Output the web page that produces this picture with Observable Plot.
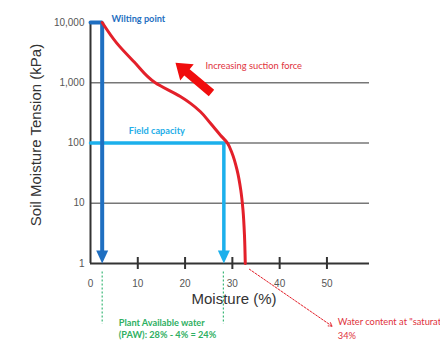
<!DOCTYPE html>
<html>
<head>
<meta charset="utf-8">
<script src="https://cdn.jsdelivr.net/npm/d3@7"></script>
<script src="https://cdn.jsdelivr.net/npm/@observablehq/plot@0.6"></script>
<style>
  html, body { margin: 0; padding: 0; background: #fff; }
</style>
</head>
<body>
<div id="chart"></div>
<script>
// Retention curve (moisture %, tension kPa)
const curveMoisture = [2.47, 5.6, 9.2, 13.7, 19.0, 21.15, 23.26, 25.37, 27.48, 28.9, 29.96, 31.0, 31.78, 32.25, 32.56, 32.73];
const curveTension  = [10000, 4500, 2230, 1000, 590, 455, 330, 212, 135, 101, 67, 35.5, 16.5, 7.7, 2.95, 1];

const yTicks = [1, 10, 100, 1000, 10000];
const xTickLabels = [0, 10, 20, 30, 40, 50];
const xTickMarks = [10, 20, 30, 40, 50];
const gridValues = [10, 100, 1000];

const wiltingX = 2.47;      // wilting point moisture
const wiltingY = 10000;
const fieldX = 28.2;        // field capacity moisture
const fieldY = 100;

// paths
const wiltingPath = [[0, wiltingY], [wiltingX, wiltingY], [wiltingX, 1.6]];
const fieldPath = [[0, fieldY], [fieldX, fieldY], [fieldX, 1.6]];

// annotations
const annotX = [4.44, 8.1, 24.3, 5.98, 5.98, 52.3, 52.3];
const annotY = [11430, 160, 1893, 0.103, 0.0644, 0.105, 0.0622];
const annotText = ["Wilting point", "Field capacity", "Increasing suction force",
  "Plant Available water", "(PAW): 28% - 4% = 24%",
  "Water content at \"saturation\"", "34%"];
const annotColor = ["#1f6fc1", "#25aee8", "#e0323c", "#2eaf62", "#2eaf62", "#e0323c", "#e0323c"];
const annotBold = [true, true, false, true, true, false, false];

// big suction arrow (tip position)
const suctionTip = [{x: 17.97, y: 2150}];
// dotted saturation pointer
const satPointer = [{x1: 33.6, y1: 0.804, x2: 51.1, y2: 0.091}];
// dashed PAW guides
const pawGuides = [wiltingX, 28.1];

const curve = curveMoisture.map((m, i) => ({x: m, y: curveTension[i]})).reverse();
const annots = annotText.map((t, i) => ({x: annotX[i], y: annotY[i], text: t, color: annotColor[i], bold: annotBold[i]}));

const blockArrow = {
  draw(ctx, l) {
    const hw = 10.5, hl = 15, sw = 4.2;
    ctx.moveTo(-sw, 0);
    ctx.lineTo(-sw, -(l - hl));
    ctx.lineTo(-hw, -(l - hl));
    ctx.lineTo(0, -l);
    ctx.lineTo(hw, -(l - hl));
    ctx.lineTo(sw, -(l - hl));
    ctx.lineTo(sw, 0);
    ctx.closePath();
  }
};

const annotFont = "Lato, 'Open Sans', sans-serif";

const chart = Plot.plot({
  width: 440,
  height: 352,
  marginLeft: 90,
  marginRight: 71,
  marginTop: 22,
  marginBottom: 89,
  style: {fontFamily: "'Liberation Sans', Arial, sans-serif", background: "#fff"},
  x: {domain: [0, 59], axis: null},
  y: {type: "log", domain: [1, 10000], axis: null},
  marks: [
    Plot.ruleY(gridValues, {stroke: "#777", strokeWidth: 1.3}),
    Plot.axisY({ticks: yTicks, tickFormat: d3.format(","), tickSize: 0, tickPadding: 6, fontSize: 10, color: "#555", label: null}),
    Plot.axisX({ticks: xTickLabels, tickFormat: d => String(d), tickSize: 0, tickPadding: 16, fontSize: 10, color: "#555", label: null}),
    Plot.axisX({ticks: xTickMarks, tickFormat: () => "", tickSize: 12, dy: -6, strokeWidth: 2, stroke: "#333", label: null}),
    Plot.ruleX([0], {y1: 1, y2: 10000, stroke: "#333", strokeWidth: 2}),
    Plot.ruleY([1], {x1: 0, x2: 59, stroke: "#333", strokeWidth: 2.2}),
    Plot.text(["Soil Moisture Tension (kPa)"], {frameAnchor: "left", textAnchor: "middle", lineAnchor: "middle", rotate: -90, dx: -54, dy: -8, fontSize: 15, fill: "#333"}),
    Plot.text(["Moisture (%)"], {frameAnchor: "bottom", textAnchor: "middle", lineAnchor: "middle", dx: 4, dy: 36, fontSize: 15, fill: "#333"}),
    // field capacity
    Plot.line(fieldPath, {x: d => d[0], y: d => d[1], stroke: "#1cb0ec", strokeWidth: 3.5, strokeLinejoin: "miter"}),
    Plot.vector([{x: fieldX, y: 1}], {x: "x", y: "y", shape: "spike", anchor: "end", rotate: 180, length: 13, r: 6, fill: "#1cb0ec", stroke: "none"}),
    // wilting point
    Plot.line(wiltingPath, {x: d => d[0], y: d => d[1], stroke: "#1f6fc1", strokeWidth: 4, strokeLinejoin: "miter"}),
    Plot.vector([{x: wiltingX, y: 1}], {x: "x", y: "y", shape: "spike", anchor: "end", rotate: 180, length: 13, r: 6, fill: "#1f6fc1", stroke: "none"}),
    // retention curve
    Plot.line(curve, {x: "x", y: "y", stroke: "#e3202a", strokeWidth: 3, curve: "monotone-y"}),
    // suction arrow
    Plot.vector(suctionTip, {x: "x", y: "y", shape: blockArrow, anchor: "end", rotate: -50, length: 47, fill: "#f00d0d", stroke: "none"}),
    // guides
    Plot.ruleX(pawGuides, {y1: 0.72, y2: 0.098, stroke: "#3cb878", strokeWidth: 1.2, strokeDasharray: "2,2"}),
    Plot.arrow(satPointer, {x1: "x1", y1: "y1", x2: "x2", y2: "y2", stroke: "#e3202a", strokeWidth: 1, strokeDasharray: "2,1.5", headLength: 6}),
    // annotations
    Plot.text(annots.filter(d => d.bold), {x: "x", y: "y", text: "text", fill: "color", fontWeight: "bold", textAnchor: "start", fontSize: 9.2, fontFamily: annotFont}),
    Plot.text(annots.filter(d => !d.bold), {x: "x", y: "y", text: "text", fill: "color", textAnchor: "start", fontSize: 9.3, fontFamily: annotFont})
  ]
});

document.getElementById("chart").appendChild(chart);
</script>
</body>
</html>
